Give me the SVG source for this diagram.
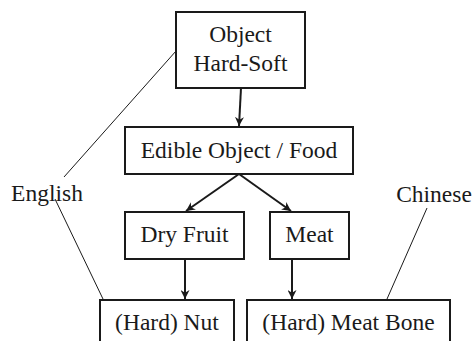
<svg xmlns="http://www.w3.org/2000/svg" width="473" height="341" viewBox="0 0 473 341">
<defs>
<marker id="ah" viewBox="0 0 10 10" refX="10" refY="5" markerWidth="9" markerHeight="9" markerUnits="userSpaceOnUse" orient="auto">
<path d="M0,0 L10,5 L0,10 L3,5 z" fill="#1a1a1a"/>
</marker>
<style>
.box{fill:#fff;stroke:#1a1a1a;stroke-width:2}
.t{font-size:23.5px;fill:#1a1a1a;text-anchor:middle}
.c{stroke:#1a1a1a;stroke-width:2;fill:none;marker-end:url(#ah)}
.l{stroke:#1a1a1a;stroke-width:1;fill:none}
</style>
</defs>
<g id="connectors">
<line class="c" x1="241" y1="88" x2="239" y2="126"/>
<line class="c" x1="239" y1="174" x2="186" y2="211"/>
<line class="c" x1="239" y1="174" x2="291" y2="211"/>
<line class="c" x1="185" y1="259" x2="185" y2="299"/>
<line class="c" x1="292" y1="259" x2="292" y2="299"/>
<line class="l" x1="176" y1="51" x2="64" y2="177"/>
<line class="l" x1="55" y1="199" x2="103" y2="299"/>
<line class="l" x1="427" y1="208" x2="387" y2="299"/>
</g>
<g font-family="Liberation Serif, DejaVu Serif, serif">
<g id="object">
<rect class="box" x="176" y="12" width="129" height="76"/>
<text class="t" x="240.5" y="42">Object</text>
<text class="t" x="240.5" y="71">Hard-Soft</text>
</g>
<g id="edible">
<rect class="box" x="125" y="127" width="228" height="47"/>
<text class="t" x="239" y="158">Edible Object / Food</text>
</g>
<g id="dryfruit">
<rect class="box" x="125" y="212" width="119" height="47"/>
<text class="t" x="184.5" y="242">Dry Fruit</text>
</g>
<g id="meat">
<rect class="box" x="270" y="212" width="79" height="47"/>
<text class="t" x="309.5" y="242">Meat</text>
</g>
<g id="nut">
<rect class="box" x="100" y="300" width="134" height="50"/>
<text class="t" x="167" y="330">(Hard) Nut</text>
</g>
<g id="meatbone">
<rect class="box" x="247" y="300" width="203" height="50"/>
<text class="t" x="348.5" y="330">(Hard) Meat Bone</text>
</g>
<g id="english">
<text class="t" x="47" y="201">English</text>
</g>
<g id="chinese">
<text class="t" x="434" y="202">Chinese</text>
</g>
</g>
</svg>
